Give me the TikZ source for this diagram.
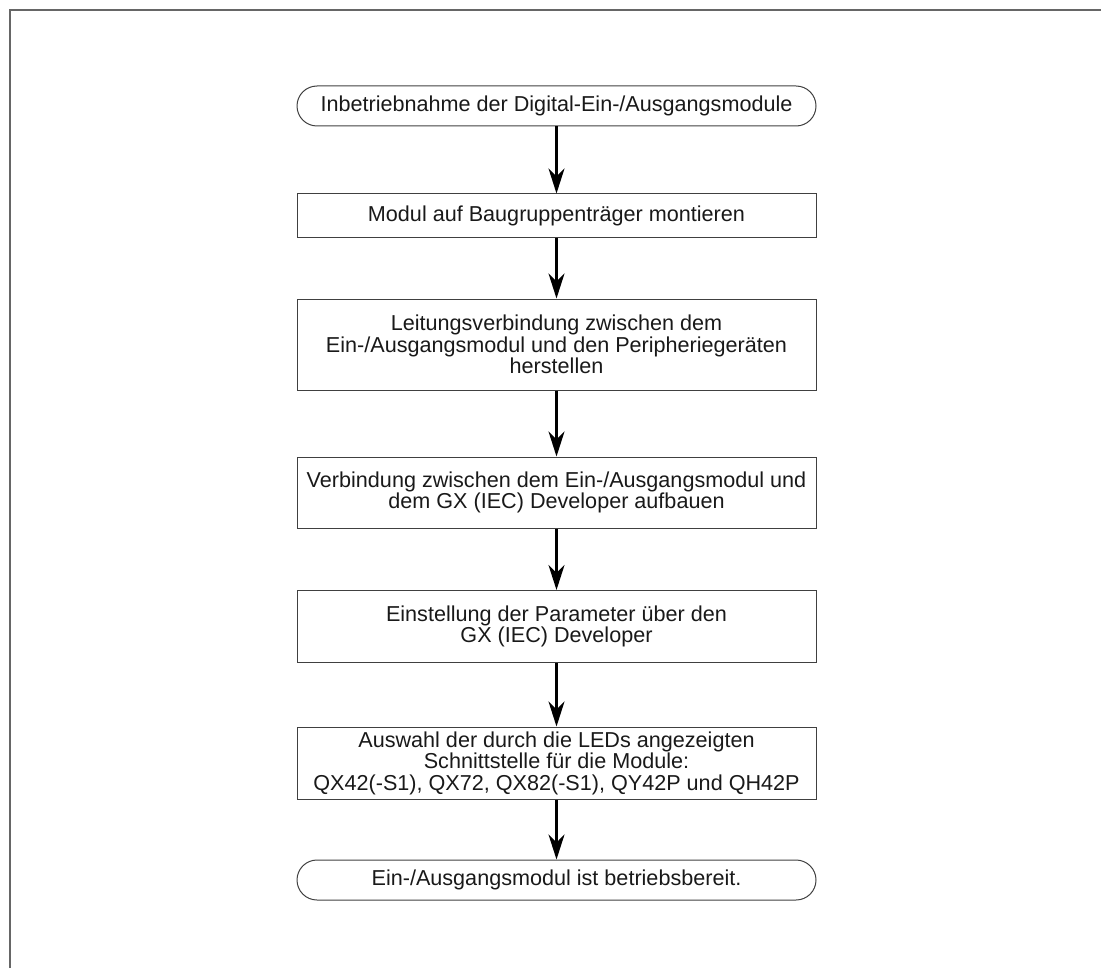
\documentclass[tikz,border=0pt]{standalone}
\usepackage{fontspec}
\setmainfont{Liberation Sans}
\usetikzlibrary{arrows.meta}
\tikzset{
  stepbox/.style={draw=black!75, line width=0.5pt, minimum width=259.5pt,
    align=center, inner sep=0pt, text=black!90,
    font=\fontsize{10.8}{10.8}\selectfont},
  termbox/.style={stepbox, rounded corners=10pt, minimum height=20pt},
  flow/.style={-{Stealth[length=12.5pt,width=8pt,inset=4pt]}, line width=1.1pt}
}
\begin{document}
\begin{tikzpicture}[x=0.5pt, y=-0.5pt]
  \useasboundingbox (0,0) rectangle (1101,968);
  % Frame
  \draw[black!60, line width=0.6pt] (10,968) -- (10,10) -- (1101,10);

  % Steps
  \node[termbox] (start) at (556.5,106) {Inbetriebnahme der Digital-Ein-/Ausgangsmodule};
  \node[stepbox, minimum height=21.5pt] (mount) at (556.5,215.5) {Modul auf Baugruppenträger montieren};
  \node[stepbox, minimum height=45.5pt] (wire) at (556.5,344.5)
    {Leitungsverbindung zwischen dem\\Ein-/Ausgangsmodul und den Peripheriegeräten\\herstellen};
  \node[stepbox, minimum height=35.5pt] (link) at (556.5,492.5)
    {Verbindung zwischen dem Ein-/Ausgangsmodul und\\dem GX (IEC) Developer aufbauen};
  \node[stepbox, minimum height=36pt] (param) at (556.5,626.5)
    {Einstellung der Parameter über den\\GX (IEC) Developer};
  \node[stepbox, minimum height=36pt] (leds) at (556.5,763)
    {Auswahl der durch die LEDs angezeigten\\Schnittstelle für die Module:\\QX42(-S1), QX72, QX82(-S1), QY42P und QH42P};
  \node[termbox] (ready) at (556.5,880) {Ein-/Ausgangsmodul ist betriebsbereit.};

  % Arrows
  \draw[flow] (start) -- (mount);
  \draw[flow] (mount) -- (wire);
  \draw[flow] (wire) -- (link);
  \draw[flow] (link) -- (param);
  \draw[flow] (param) -- (leds);
  \draw[flow] (leds) -- (ready);
\end{tikzpicture}
\end{document}
